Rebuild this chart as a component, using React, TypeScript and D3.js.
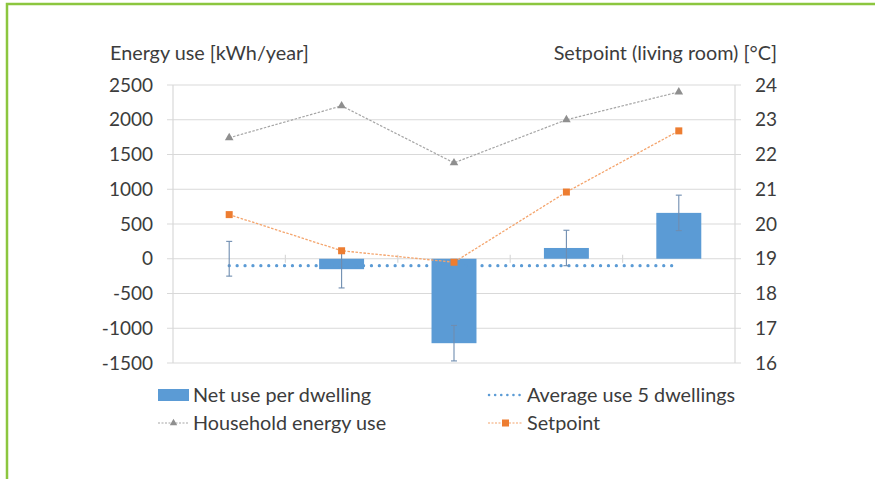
import React, { useEffect, useRef } from "react";
import * as d3 from "d3";

const dwellings = ["D1", "D2", "D3", "D4", "D5"];
const netUse = [0, -150, -1215, 155, 660];
const netErr = [250, 270, 255, 255, 255];
const householdUse = [1740, 2200, 1380, 2000, 2400];
const setpoint = [20.27, 19.23, 18.9, 20.92, 22.68];
const averageUse = -100;
const leftTicks = [-1500, -1000, -500, 0, 500, 1000, 1500, 2000, 2500];
const rightTicks = [16, 17, 18, 19, 20, 21, 22, 23, 24];

const FONT = "Lato, 'Open Sans', sans-serif";
const TEXT = "#3c3c3c";

const App: React.FC = () => {
  const svgRef = useRef<SVGSVGElement | null>(null);

  useEffect(() => {
    const svg = d3.select(svgRef.current);
    svg.selectAll("*").remove();

    const plot = { left: 173, right: 735, top: 85, bottom: 363 };

    const x = d3
      .scaleBand<string>()
      .domain(dwellings)
      .range([plot.left, plot.right])
      .padding(0);
    const yL = d3.scaleLinear().domain([-1500, 2500]).range([plot.bottom, plot.top]);
    const yR = d3.scaleLinear().domain([16, 24]).range([plot.bottom, plot.top]);
    const cx = (d: string) => (x(d) || 0) + x.bandwidth() / 2;
    const barW = x.bandwidth() * 0.4;

    // green frame
    svg
      .append("path")
      .attr("d", "M7,479 V4 H875")
      .attr("fill", "none")
      .attr("stroke", "#8cc63f")
      .attr("stroke-width", 2.5);

    // gridlines + axis ticks
    svg
      .append("g")
      .selectAll("line")
      .data(leftTicks)
      .enter()
      .append("line")
      .attr("x1", plot.left - 6)
      .attr("x2", plot.right + 6)
      .attr("y1", (d) => yL(d))
      .attr("y2", (d) => yL(d))
      .attr("stroke", "#d9d9d9")
      .attr("stroke-width", 1.2);

    svg
      .append("g")
      .selectAll("line")
      .data([plot.left, plot.right])
      .enter()
      .append("line")
      .attr("x1", (d) => d)
      .attr("x2", (d) => d)
      .attr("y1", plot.top)
      .attr("y2", plot.bottom)
      .attr("stroke", "#d9d9d9")
      .attr("stroke-width", 1.2);

    // category ticks on the zero line
    svg
      .append("g")
      .selectAll("line")
      .data(dwellings.slice(1))
      .enter()
      .append("line")
      .attr("x1", (d) => x(d) || 0)
      .attr("x2", (d) => x(d) || 0)
      .attr("y1", yL(0) - 4)
      .attr("y2", yL(0) + 4)
      .attr("stroke", "#d9d9d9")
      .attr("stroke-width", 1.2);

    // tick labels
    svg
      .append("g")
      .selectAll("text")
      .data(leftTicks)
      .enter()
      .append("text")
      .attr("x", 153)
      .attr("y", (d) => yL(d))
      .attr("dy", "0.35em")
      .attr("text-anchor", "end")
      .style("font-family", FONT)
      .style("font-size", "19px")
      .attr("fill", TEXT)
      .text((d) => String(d));

    svg
      .append("g")
      .selectAll("text")
      .data(rightTicks)
      .enter()
      .append("text")
      .attr("x", 755)
      .attr("y", (d) => yR(d))
      .attr("dy", "0.35em")
      .style("font-family", FONT)
      .style("font-size", "19px")
      .attr("fill", TEXT)
      .text((d) => String(d));

    // axis titles
    svg
      .append("text")
      .attr("x", 110)
      .attr("y", 60)
      .style("font-family", FONT)
      .style("font-size", "19.8px")
      .attr("fill", TEXT)
      .text("Energy use [kWh/year]");
    svg
      .append("text")
      .attr("x", 777)
      .attr("y", 60)
      .attr("text-anchor", "end")
      .style("font-family", FONT)
      .style("font-size", "19.8px")
      .attr("fill", TEXT)
      .text("Setpoint (living room) [°C]");

    // bars
    svg
      .append("g")
      .selectAll("rect")
      .data(dwellings)
      .enter()
      .append("rect")
      .attr("x", (d) => cx(d) - barW / 2)
      .attr("width", barW)
      .attr("y", (d, i) => Math.min(yL(0), yL(netUse[i])))
      .attr("height", (d, i) => Math.abs(yL(netUse[i]) - yL(0)))
      .attr("fill", "#5b9bd5");

    // average line
    const avgX0 = cx(dwellings[0]);
    const avgX1 = cx(dwellings[dwellings.length - 1]);
    svg
      .append("line")
      .attr("x1", avgX0)
      .attr("x2", avgX1)
      .attr("y1", yL(averageUse))
      .attr("y2", yL(averageUse))
      .attr("stroke", "#5b9bd5")
      .attr("stroke-width", 3.2)
      .attr("stroke-linecap", "round")
      .attr("stroke-dasharray", "0.1 7.8");

    // error bars
    const eb = svg.append("g").attr("stroke", "#6f8db0").attr("stroke-width", 1.1);
    dwellings.forEach((d, i) => {
      const hi = yL(netUse[i] + netErr[i]);
      const lo = yL(netUse[i] - netErr[i]);
      const c = cx(d);
      eb.append("line").attr("x1", c).attr("x2", c).attr("y1", hi).attr("y2", lo);
      eb.append("line").attr("x1", c - 3).attr("x2", c + 3).attr("y1", hi).attr("y2", hi);
      eb.append("line").attr("x1", c - 3).attr("x2", c + 3).attr("y1", lo).attr("y2", lo);
    });

    // household energy use
    const lineL = d3
      .line<number>()
      .x((d, i) => cx(dwellings[i]))
      .y((d) => yL(d));
    svg
      .append("path")
      .attr("d", lineL(householdUse) || "")
      .attr("fill", "none")
      .attr("stroke", "#a5a5a5")
      .attr("stroke-width", 1.2)
      .attr("stroke-dasharray", "2.5 1.5");
    const tri = d3.symbol().type(d3.symbolTriangle).size(32);
    svg
      .append("g")
      .selectAll("path")
      .data(householdUse)
      .enter()
      .append("path")
      .attr("d", tri() || "")
      .attr("transform", (d, i) => `translate(${cx(dwellings[i])},${yL(d)})`)
      .attr("fill", "#8f8f8f");

    // setpoint
    const lineR = d3
      .line<number>()
      .x((d, i) => cx(dwellings[i]))
      .y((d) => yR(d));
    svg
      .append("path")
      .attr("d", lineR(setpoint) || "")
      .attr("fill", "none")
      .attr("stroke", "#f4a46c")
      .attr("stroke-width", 1.3)
      .attr("stroke-dasharray", "2.5 1.5");
    svg
      .append("g")
      .selectAll("rect")
      .data(setpoint)
      .enter()
      .append("rect")
      .attr("x", (d, i) => cx(dwellings[i]) - 3.5)
      .attr("y", (d) => yR(d) - 3.5)
      .attr("width", 7)
      .attr("height", 7)
      .attr("fill", "#ed7d31");

    // legend
    const lg = svg.append("g").style("font-family", FONT).style("font-size", "19.8px");
    const row1 = 395;
    const row2 = 423;
    lg.append("rect").attr("x", 158).attr("y", row1 - 6).attr("width", 31).attr("height", 12).attr("fill", "#5b9bd5");
    lg.append("text").attr("x", 193).attr("y", row1).attr("dy", "0.35em").attr("fill", TEXT).text("Net use per dwelling");

    lg.append("line").attr("x1", 158).attr("x2", 189).attr("y1", row2).attr("y2", row2)
      .attr("stroke", "#a5a5a5").attr("stroke-width", 1.2).attr("stroke-dasharray", "2 1.5");
    lg.append("path").attr("d", d3.symbol().type(d3.symbolTriangle).size(24)() || "")
      .attr("transform", `translate(173.5,${row2})`).attr("fill", "#8f8f8f");
    lg.append("text").attr("x", 193).attr("y", row2).attr("dy", "0.35em").attr("fill", TEXT).text("Household energy use");

    lg.append("line").attr("x1", 489).attr("x2", 523).attr("y1", row1).attr("y2", row1)
      .attr("stroke", "#5b9bd5").attr("stroke-width", 2.5).attr("stroke-linecap", "round").attr("stroke-dasharray", "0.1 6");
    lg.append("text").attr("x", 527).attr("y", row1).attr("dy", "0.35em").attr("fill", TEXT).text("Average use 5 dwellings");

    lg.append("line").attr("x1", 488).attr("x2", 523).attr("y1", row2).attr("y2", row2)
      .attr("stroke", "#f4a46c").attr("stroke-width", 1.2).attr("stroke-dasharray", "2 1.5");
    lg.append("rect").attr("x", 502).attr("y", row2 - 3.5).attr("width", 7).attr("height", 7).attr("fill", "#ed7d31");
    lg.append("text").attr("x", 527).attr("y", row2).attr("dy", "0.35em").attr("fill", TEXT).text("Setpoint");
  }, []);

  return (
    <svg
      ref={svgRef}
      width={875}
      height={479}
      style={{ position: "absolute", left: 0, top: 0, background: "#fff" }}
    ></svg>
  );
};

export default App;
